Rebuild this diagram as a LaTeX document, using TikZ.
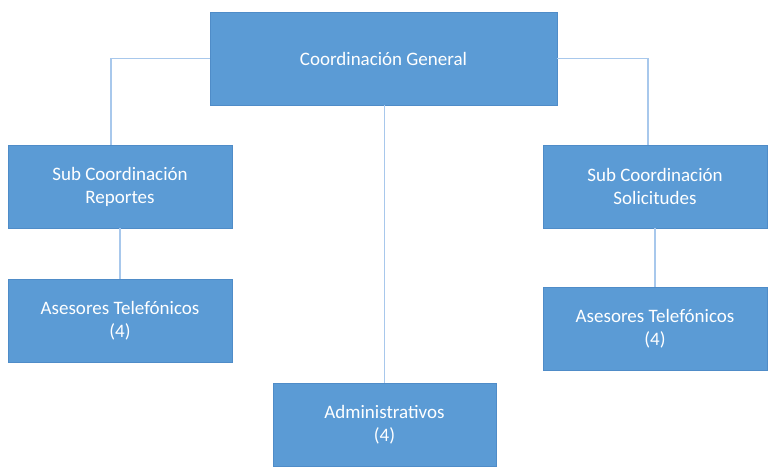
\documentclass[tikz,border=0pt]{standalone}
\usepackage{fontspec}
\setmainfont{Carlito}
\definecolor{boxblue}{HTML}{5B9BD5}
\definecolor{boxedge}{HTML}{4F8CC8}
\definecolor{linkblue}{HTML}{A8C8EC}
\tikzset{unit/.style={draw=boxedge,line width=0.8pt,fill=boxblue,text=white,
    align=center,font=\fontsize{19}{23}\selectfont,inner sep=0pt,
    minimum width=224pt,minimum height=83pt},
    link/.style={draw=linkblue,line width=1.6pt}}
\begin{document}
\begin{tikzpicture}[x=1pt,y=-1pt]
\useasboundingbox (0,0) rectangle (771,466);
\node[unit,minimum width=347pt,minimum height=93pt] (gen) at (383.5,58.5) {Coordinación General};
\node[unit] (subrep) at (120,186.5) {Sub Coordinación\\Reportes};
\node[unit] (subsol) at (655,186.5) {Sub Coordinación\\Solicitudes};
\node[unit] (asesizq) at (120,321) {Asesores Telefónicos\\(4)};
\node[unit] (asesder) at (655,328.5) {Asesores Telefónicos\\(4)};
\node[unit,minimum width=223pt] (admin) at (384.5,425) {Administrativos\\(4)};
% conectores
\draw[link] (gen.west) -| ([xshift=-9pt]subrep.north);
\draw[link] (gen.east) -| ([xshift=-7pt]subsol.north);
\draw[link] (gen.south -| admin.north) -- (admin.north);
\draw[link] (subrep.south) -- (asesizq.north);
\draw[link] (subsol.south) -- (asesder.north);
\end{tikzpicture}
\end{document}
